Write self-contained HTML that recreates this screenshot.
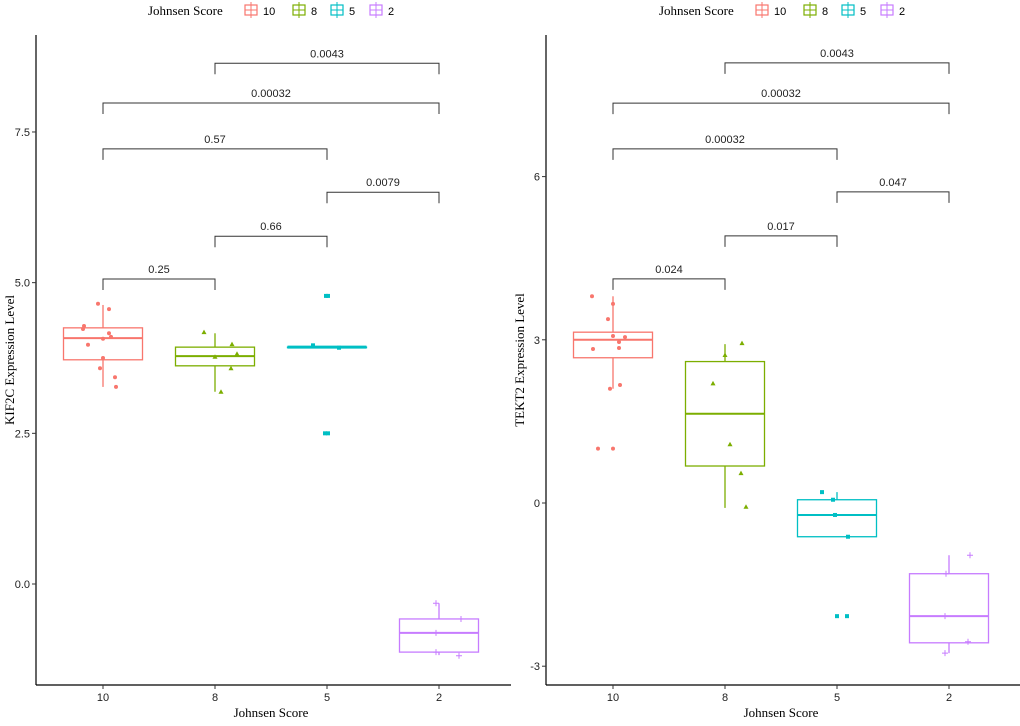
<!DOCTYPE html>
<html><head><meta charset="utf-8"><style>
body{margin:0;background:#fff}
svg text{font-family:"Liberation Sans",sans-serif}
.serif{font-family:"Liberation Serif",serif}
</style></head><body>
<svg id="chart" width="1020" height="721" xmlns="http://www.w3.org/2000/svg"></svg>
<script>
const categories=["10","8","5","2"];
const colors=["#F8766D","#7CAE00","#00BFC4","#C77CFF"];
// Left panel: KIF2C
const kifBoxes=[[3.27,3.72,4.08,4.25,4.63],[3.19,3.62,3.78,3.93,4.16],[3.93,3.93,3.93,3.93,3.93],[-1.18,-1.13,-0.81,-0.58,-0.32]];
const kifPoints=[[4.65,4.56,4.23,4.28,4.16,4.1,4.07,3.97,3.75,3.58,3.43,3.27],[4.18,3.98,3.82,3.77,3.58,3.19],[4.78,4.78,3.96,3.92,2.5,2.5],[-0.32,-0.58,-0.81,-1.13,-1.19]];
const kifJitter=[[-5,6,-20,-19,6,8,0,-15,0,-3,12,13],[-11,17,22,0,16,6],[-1,1,-14,12,-2,1],[-3,22,-3,-3,20]];
const kifTicks=[0,2.5,5,7.5];
const kifTickLabels=["0.0","2.5","5.0","7.5"];
const kifBrackets=[[1,3,"0.0043",8.64],[0,3,"0.00032",7.98],[0,2,"0.57",7.22],[2,3,"0.0079",6.5],[1,2,"0.66",5.77],[0,1,"0.25",5.06]];
// Right panel: TEKT2
const tekBoxes=[[2.1,2.67,3.0,3.14,3.8],[-0.09,0.68,1.64,2.6,2.92],[-0.62,-0.62,-0.22,0.06,0.2],[-2.76,-2.57,-2.08,-1.3,-0.96]];
const tekPoints=[[3.8,3.66,3.38,3.07,3.05,2.96,2.83,2.85,2.17,2.1,1.0,1.0],[2.94,2.72,2.2,1.08,0.55,-0.07],[0.2,0.06,-0.22,-0.62,-2.08,-2.08],[-0.96,-1.3,-2.08,-2.55,-2.76]];
const tekJitter=[[-21,0,-5,0,12,6,-20,6,7,-3,-15,0],[17,0,-12,5,16,21],[-15,-4,-2,11,0,10],[21,-3,-4,19,-4]];
const tekTicks=[-3,0,3,6];
const tekTickLabels=["-3","0","3","6"];
const tekBrackets=[[1,3,"0.0043",8.09],[0,3,"0.00032",7.35],[0,2,"0.00032",6.51],[2,3,"0.047",5.72],[1,2,"0.017",4.91],[0,1,"0.024",4.12]];

const svg=document.getElementById('chart');
const NS="http://www.w3.org/2000/svg";
function mk(tag,attrs,parent,text){const e=document.createElementNS(NS,tag);for(const k in attrs)e.setAttribute(k,attrs[k]);if(text!==undefined)e.textContent=text;(parent||svg).appendChild(e);return e;}

function panel(o){
  const g=mk('g',{});
  
  
  const y=v=>o.y0+(v-o.v0)*o.ppu*-1;
  const x=i=>o.xc0+i*112;
  const ax=mk('line',{x1:o.ax,y1:35,x2:o.ax,y2:685,stroke:'#000','stroke-width':1.2},g);
  
  const bx=mk('line',{x1:o.ax,y1:685,x2:o.ax+475,y2:685,stroke:'#000','stroke-width':1.2},g);
  
  o.ticks.forEach((t,i)=>{
    mk('line',{x1:o.ax-4,y1:y(t),x2:o.ax,y2:y(t),stroke:'#333'},g);
    const tl=mk('text',{x:o.ax-6,y:y(t)+4,'text-anchor':'end','font-size':11,fill:'#222'},g,o.tickLabels[i]);
    
  });
  categories.forEach((c,i)=>{
    mk('line',{x1:x(i),y1:685,x2:x(i),y2:689,stroke:'#333'},g);
    const tl=mk('text',{x:x(i),y:701,'text-anchor':'middle','font-size':11,fill:'#222'},g,c);
    
  });
  const xt=mk('text',{x:o.ax+235,y:717,'text-anchor':'middle','font-size':13,'class':'serif'},g,'Johnsen Score');
  
  const yt=mk('text',{x:0,y:0,'text-anchor':'middle','font-size':13,'class':'serif',transform:`translate(${o.ax-22},360) rotate(-90)`},g,o.ytitle);
  
  o.boxes.forEach((b,i)=>{
    const bg=mk('g',{},g);
    
    const col=colors[i],cx=x(i),w=79;
    mk('line',{x1:cx,y1:y(b[4]),x2:cx,y2:y(b[3]),stroke:col,'stroke-width':1.3},bg);
    mk('line',{x1:cx,y1:y(b[1]),x2:cx,y2:y(b[0]),stroke:col,'stroke-width':1.3},bg);
    mk('rect',{x:cx-w/2,y:y(b[3]),width:w,height:Math.max(0.5,y(b[1])-y(b[3])),fill:'#fff',stroke:col,'stroke-width':1.3},bg);
    mk('line',{x1:cx-w/2,y1:y(b[2]),x2:cx+w/2,y2:y(b[2]),stroke:col,'stroke-width':b[1]===b[3]?3:2},bg);
  });
  o.points.forEach((arr,i)=>{
    arr.forEach((v,j)=>{
      const px=x(i)+o.jit[i][j],py=y(v),col=colors[i];let p;
      if(i===0)p=mk('circle',{cx:px,cy:py,r:2,fill:col},g);
      else if(i===1)p=mk('polygon',{points:`${px},${py-2.5} ${px-2.5},${py+2} ${px+2.5},${py+2}`,fill:col},g);
      else if(i===2)p=mk('rect',{x:px-2,y:py-2,width:4,height:4,fill:col},g);
      else p=mk('path',{d:`M${px-3},${py}H${px+3}M${px},${py-3}V${py+3}`,stroke:col,'stroke-width':1},g);
      
    });
  });
  o.brackets.forEach(br=>{
    const bg=mk('g',{},g);
    
    const yy=y(br[3]),x1=x(br[0]),x2=x(br[1]);
    mk('path',{d:`M${x1},${yy+11}V${yy}H${x2}V${yy+11}`,fill:'none',stroke:'#333','stroke-width':1},bg);
    mk('text',{x:(x1+x2)/2,y:yy-6,'text-anchor':'middle','font-size':11,fill:'#222'},bg,br[2]);
  });
  const lg=mk('g',{},g);
  
  mk('text',{x:o.lx,y:15,'font-size':13,'class':'serif'},lg,'Johnsen Score');
  categories.forEach((c,i)=>{
    const lx=o.lx+[103,151,189,228][i];
    const e=mk('g',{},lg);
    
    mk('rect',{x:lx-6,y:5,width:12,height:10,fill:'none',stroke:colors[i],'stroke-width':1.2},e);
    mk('line',{x1:lx-6,y1:10,x2:lx+6,y2:10,stroke:colors[i]},e);
    mk('line',{x1:lx,y1:2,x2:lx,y2:18,stroke:colors[i]},e);
    mk('text',{x:lx+12,y:15,'font-size':11},e,c);
  });
}
panel({name:'kif2c-panel',ax:36,y0:584,v0:0,ppu:60.27,xc0:103,ticks:kifTicks,tickLabels:kifTickLabels,ytitle:'KIF2C Expression Level',boxes:kifBoxes,points:kifPoints,jit:kifJitter,brackets:kifBrackets,lx:148});
panel({name:'tekt2-panel',ax:546,y0:503,v0:0,ppu:54.4,xc0:613,ticks:tekTicks,tickLabels:tekTickLabels,ytitle:'TEKT2 Expression Level',boxes:tekBoxes,points:tekPoints,jit:tekJitter,brackets:tekBrackets,lx:659});
</script>
</body></html>
